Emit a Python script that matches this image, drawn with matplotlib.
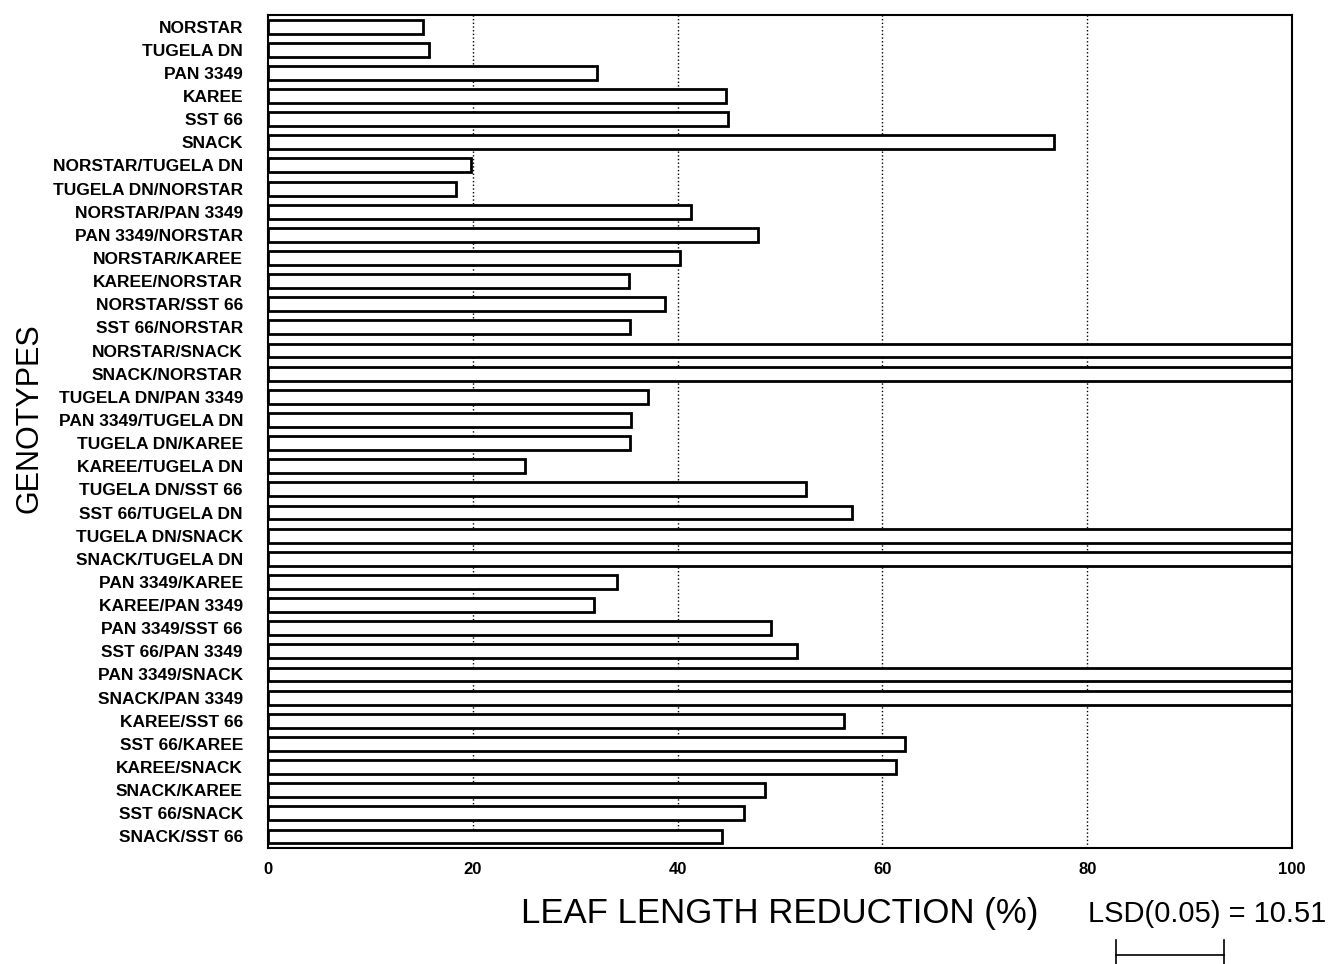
import matplotlib
matplotlib.use("Agg")
import matplotlib.pyplot as plt
import matplotlib.transforms as mtransforms

plt.rcParams["font.family"] = ["Liberation Sans", "DejaVu Sans"]

# genotypes, top to bottom
genotypes = [
    "NORSTAR", "TUGELA DN", "PAN 3349", "KAREE", "SST 66", "SNACK",
    "NORSTAR/TUGELA DN", "TUGELA DN/NORSTAR", "NORSTAR/PAN 3349", "PAN 3349/NORSTAR",
    "NORSTAR/KAREE", "KAREE/NORSTAR", "NORSTAR/SST 66", "SST 66/NORSTAR",
    "NORSTAR/SNACK", "SNACK/NORSTAR", "TUGELA DN/PAN 3349", "PAN 3349/TUGELA DN",
    "TUGELA DN/KAREE", "KAREE/TUGELA DN", "TUGELA DN/SST 66", "SST 66/TUGELA DN",
    "TUGELA DN/SNACK", "SNACK/TUGELA DN", "PAN 3349/KAREE", "KAREE/PAN 3349",
    "PAN 3349/SST 66", "SST 66/PAN 3349", "PAN 3349/SNACK", "SNACK/PAN 3349",
    "KAREE/SST 66", "SST 66/KAREE", "KAREE/SNACK", "SNACK/KAREE",
    "SST 66/SNACK", "SNACK/SST 66",
]
reduction = [
    15.1, 15.7, 32.1, 44.7, 44.9, 76.8,
    19.8, 18.4, 41.3, 47.9,
    40.2, 35.3, 38.8, 35.4,
    100, 100, 37.1, 35.5,
    35.4, 25.1, 52.5, 57.0,
    100, 100, 34.1, 31.8,
    49.1, 51.7, 100, 100,
    56.3, 62.2, 61.3, 48.5,
    46.5, 44.3,
]
xticks = [0, 20, 40, 60, 80, 100]
lsd = 10.51
lsd_start = 82.8

fig = plt.figure(figsize=(13.35, 9.64), dpi=100)
ax = fig.add_axes([0.2007, 0.1203, 0.7671, 0.8641])

pos = list(range(len(genotypes)))
ax.barh(pos, reduction, height=0.6, color="white", edgecolor="black", linewidth=2, zorder=3)

for x in xticks[1:-1]:
    ax.axvline(x, color="black", linestyle=":", linewidth=1, zorder=1)

ax.set_xlim(0, 100)
ax.set_ylim(len(genotypes) - 0.5, -0.5)
ax.set_yticks(pos)
ax.set_yticklabels(genotypes, fontsize=12.5, fontweight="bold")
ax.set_xticks(xticks)
ax.set_xticklabels([str(t) for t in xticks], fontsize=12, fontweight="bold")
ax.tick_params(length=0)
ax.tick_params(axis="x", pad=10)
ax.tick_params(axis="y", pad=18)
for s in ax.spines.values():
    s.set_linewidth(1.5)

# axis titles
ax.text(0.5, -0.079, "LEAF LENGTH REDUCTION (%)", transform=ax.transAxes,
        ha="center", va="center", fontsize=25)
ax.text(-0.233, 0.516, "GENOTYPES", transform=ax.transAxes, rotation=90,
        ha="center", va="center", fontsize=22)

# LSD scale bar
trans = mtransforms.blended_transform_factory(ax.transData, ax.transAxes)
ax.text(91.7, -0.079, "LSD(0.05) = %.2f" % lsd, transform=trans,
        ha="center", va="center", fontsize=21, clip_on=False)
ax.plot([lsd_start, lsd_start + lsd], [-0.128, -0.128], color="black", lw=1.2,
        transform=trans, clip_on=False)
for x in [lsd_start, lsd_start + lsd]:
    ax.plot([x, x], [-0.111, -0.139], color="black", lw=1.2, transform=trans, clip_on=False)

fig.savefig("out.png", dpi=100)
